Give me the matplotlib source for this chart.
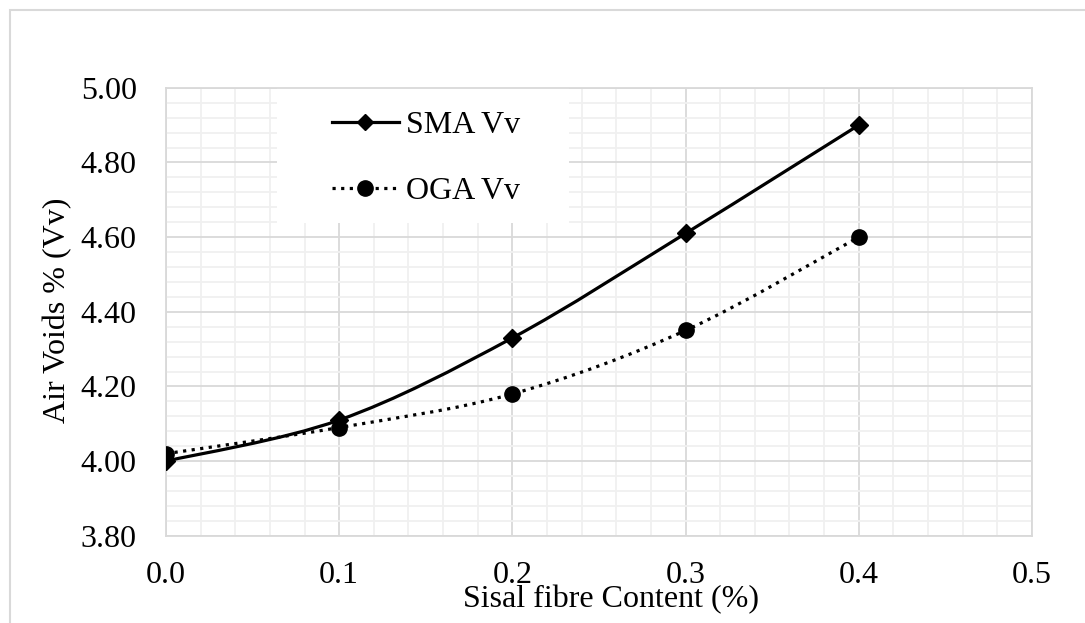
import matplotlib.pyplot as plt
import numpy as np
from matplotlib.path import Path
from matplotlib.patches import PathPatch, Rectangle
from matplotlib.lines import Line2D
from matplotlib.ticker import MultipleLocator, FormatStrFormatter

# Datos
contenido_fibra = [0.0, 0.1, 0.2, 0.3, 0.4]
sma_vv = [4.00, 4.11, 4.33, 4.61, 4.90]
oga_vv = [4.02, 4.09, 4.18, 4.35, 4.60]
nombres = ['SMA Vv', 'OGA Vv']

plt.rcParams['font.family'] = ['Liberation Serif', 'DejaVu Serif']


def curva_suave(x, y):
    # Curva tipo Excel (Catmull-Rom convertida a Bezier cubica)
    p = np.column_stack([x, y])
    verts = [p[0]]
    codes = [Path.MOVETO]
    n = len(p)
    for i in range(n - 1):
        p0 = p[i - 1] if i > 0 else p[i]
        p3 = p[i + 2] if i + 2 < n else p[i + 1]
        c1 = p[i] + (p[i + 1] - p0) / 6
        c2 = p[i + 1] - (p3 - p[i]) / 6
        verts += [c1, c2, p[i + 1]]
        codes += [Path.CURVE4] * 3
    return Path(verts, codes)


fig = plt.figure(figsize=(10.85, 6.23), dpi=100)
ax = fig.add_axes([0.153, 0.140, 0.798, 0.719])

# marco exterior
fig.patches.append(Rectangle((10 / 1085, -0.2), 1.5, 1.192 - 5 / 623,
                             transform=fig.transFigure, fill=False,
                             edgecolor='#d9d9d9', linewidth=1.5))

ax.set_xlim(0, 0.5)
ax.set_ylim(3.8, 5.0)
ax.xaxis.set_major_locator(MultipleLocator(0.1))
ax.xaxis.set_minor_locator(MultipleLocator(0.02))
ax.yaxis.set_major_locator(MultipleLocator(0.2))
ax.yaxis.set_minor_locator(MultipleLocator(0.04))
ax.xaxis.set_major_formatter(FormatStrFormatter('%.1f'))
ax.yaxis.set_major_formatter(FormatStrFormatter('%.2f'))
ax.grid(True, which='major', color='#d9d9d9', linewidth=1.3)
ax.grid(True, which='minor', color='#f0f0f0', linewidth=1.3)
ax.set_axisbelow(True)
ax.tick_params(which='both', length=0)
ax.tick_params(axis='y', labelsize=23, pad=21)
ax.tick_params(axis='x', labelsize=23, pad=18)
for s in ax.spines.values():
    s.set_color('#d9d9d9')
    s.set_linewidth(1.3)

# caja blanca de la leyenda
ax.add_patch(Rectangle((0.128, 0.698), 0.338, 0.302, transform=ax.transAxes,
                       facecolor='white', edgecolor='none', zorder=1.5))

ax.add_patch(PathPatch(curva_suave(contenido_fibra, sma_vv), fill=False,
                       edgecolor='black', linewidth=2.3, zorder=3))
ax.add_patch(PathPatch(curva_suave(contenido_fibra, oga_vv), fill=False,
                       edgecolor='black', linewidth=2.3, linestyle=(0, (1, 1.7)),
                       zorder=3))
ax.plot(contenido_fibra, sma_vv, linestyle='none', marker='D', markersize=9.5,
        color='black', zorder=4)
ax.plot(contenido_fibra, oga_vv, linestyle='none', marker='o', markersize=11,
        color='black', zorder=4)

handles = [Line2D([], [], color='black', linewidth=2.3, marker='D', markersize=8),
           Line2D([], [], color='black', linewidth=2.3, linestyle=(0, (1, 1.7)),
                  marker='o', markersize=11)]
ax.legend(handles, nombres, loc='center', bbox_to_anchor=(0.300, 0.843),
          frameon=False, fontsize=23, handlelength=2.1, handletextpad=0.22,
          labelspacing=1.15)

fig.text(0.563, 0.037, 'Sisal fibre Content (%)', ha='center', va='center',
         fontsize=23)
fig.text(0.053, 0.502, 'Air Voids % (Vv)', ha='center', va='center',
         rotation=90, fontsize=23)

fig.savefig('out.png', dpi=100)
